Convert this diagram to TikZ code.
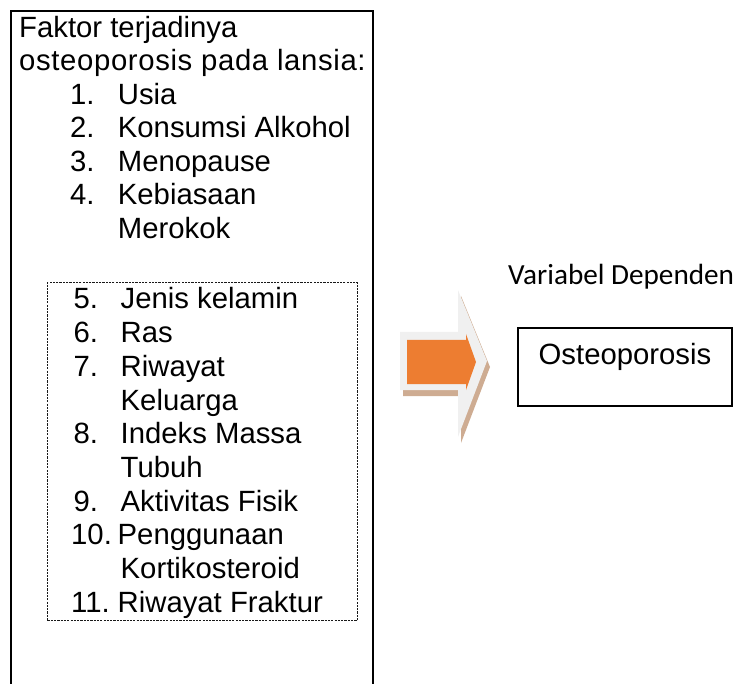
\documentclass[tikz,border=0pt]{standalone}
\usepackage{fontspec}
\setmainfont{Liberation Sans}
\newfontfamily\calfont{Carlito}
\newfontfamily\widefont[LetterSpace=2.2]{Liberation Sans}
\definecolor{arroworange}{HTML}{ED7D31}
\definecolor{arrowgray}{HTML}{F0F0F0}
\definecolor{arrowshadow}{HTML}{C9A386}
\begin{document}
\begin{tikzpicture}[x=1pt,y=-1pt,
  txt/.style={anchor=base west, inner sep=0pt, font=\fontsize{29.3}{33.6}\selectfont},
  bigbox/.style={draw, line width=2pt, anchor=north west, inner sep=0pt},
  dashbox/.style={draw=black!90, line width=0.9pt, dash pattern=on 2.2pt off 1.1pt, anchor=north west, inner sep=0pt},
  resultbox/.style={draw, line width=1.4pt, inner sep=0pt, font=\fontsize{29.3}{33.6}\selectfont}]
\useasboundingbox (0,0) rectangle (736,684);
\clip (0,0) rectangle (736,684);

% main factor box (bottom runs past the page)
\node[bigbox, minimum width=362pt, minimum height=720pt] (faktor) at (10,10) {};
% dashed group box
\node[dashbox, minimum width=310pt, minimum height=338pt] (group) at (47,282) {};

% heading
\node[txt] (h1) at (19,37.5) {Faktor terjadinya};
\node[txt, font=\widefont\fontsize{29.3}{33.6}\selectfont] (h2) at (19,71) {osteoporosis pada lansia:};

% upper list
\node[txt] (n1) at (70,104.5) {1.};  \node[txt] (w1) at (117.7,104.5) {Usia};
\node[txt] (n2) at (70,138)   {2.};  \node[txt] (w2) at (117.7,138)   {Konsumsi Alkohol};
\node[txt] (n3) at (70,171.5) {3.};  \node[txt] (w3) at (117.7,171.5) {Menopause};
\node[txt] (n4) at (70,205)   {4.};  \node[txt] (w4) at (117.7,205)   {Kebiasaan};
\node[txt] (w4b) at (117.7,238.5) {Merokok};

% lower list
\node[txt] (n5) at (73.5,309)    {5.};  \node[txt] (w5) at (120.5,309)    {Jenis kelamin};
\node[txt] (n6) at (73.5,342.7)  {6.};  \node[txt] (w6) at (120.5,342.7)  {Ras};
\node[txt] (n7) at (73.5,376.4)  {7.};  \node[txt] (w7) at (120.5,376.4)  {Riwayat};
\node[txt] (w7b) at (120.5,410.1) {Keluarga};
\node[txt] (n8) at (73.5,443.8)  {8.};  \node[txt] (w8) at (120.5,443.8)  {Indeks Massa};
\node[txt] (w8b) at (120.5,477.5) {Tubuh};
\node[txt] (n9) at (73.5,511.2)  {9.};  \node[txt] (w9) at (120.5,511.2)  {Aktivitas Fisik};
\node[txt] (n10) at (71,544.9)   {10.}; \node[txt] (w10) at (117.5,544.9) {Penggunaan};
\node[txt] (w10b) at (120.5,578.6) {Kortikosteroid};
\node[txt] (n11) at (71,612.3)   {11.}; \node[txt] (w11) at (117.5,612.3) {Riwayat Fraktur};

% block arrow: shadow, light outer shape, orange core
\fill[arrowshadow, opacity=0.9] (403,338) -- (461,338) -- (461,296) -- (490,367) -- (461,443) -- (461,396) -- (403,396) -- cycle;
\fill[arrowgray] (400,332) -- (458,332) -- (458,290) -- (487,361) -- (458,437) -- (458,390) -- (400,390) -- cycle;
\fill[arroworange] (407,340) -- (466,340) -- (466,334) -- (476,362) -- (466,390) -- (466,384) -- (407,384) -- cycle;

% dependent variable
\node[anchor=base west, inner sep=0pt, font=\calfont\fontsize{29.2}{33}\selectfont] (varlabel) at (508,284.5) {Variabel Dependen};
\node[resultbox, minimum width=214pt, minimum height=78pt, text height=21pt, text depth=25pt] (osteo) at (625,367) {Osteoporosis};
\end{tikzpicture}
\end{document}
